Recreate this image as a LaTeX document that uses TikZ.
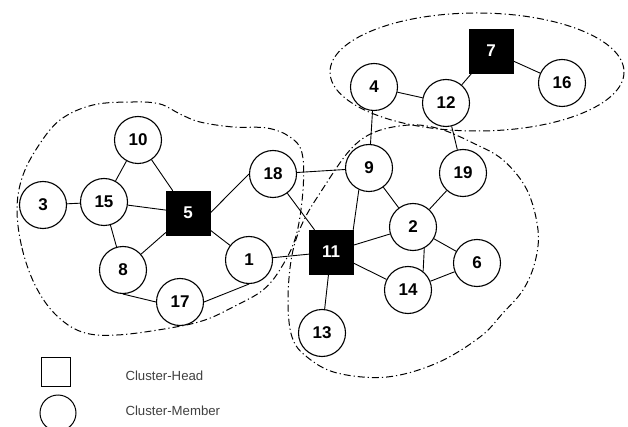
\documentclass[tikz,border=0pt]{standalone}
\usepackage{fontspec}
\setmainfont{Liberation Sans}

\begin{document}
\begin{tikzpicture}[x=1pt, y=-1pt,
        member/.style={draw, circle, line width=1.1pt, minimum size=47pt, inner sep=0pt,
            font=\fontsize{17}{17}\selectfont\bfseries},
        head/.style={draw, fill=black, text=white, minimum size=44pt, inner sep=0pt,
            font=\fontsize{17}{17}\selectfont\bfseries},
        link/.style={line width=0.9pt},
        cluster/.style={line width=1pt, dash pattern=on 7pt off 3pt on 1.2pt off 3pt},
        legend/.style={font=\fontsize{13.2}{15}\selectfont, text=black!75, anchor=west}]
        \useasboundingbox (0, 0) rectangle (628, 427);

        % cluster borders
        \draw[cluster] plot[smooth cycle, tension=0.6] coordinates {
            (17,210) (22,248) (35,285) (55,314) (82,332) (117,335) (170,328) (205,320)
            (235,306) (263,290) (281,268) (296,236) (303,190) (302,153) (290,137)
            (267,128) (233,127) (200,122) (180,114) (160,104) (133,102) (93,105)
            (60,120) (37,148) (22,178)};
        \draw[cluster] plot[smooth cycle, tension=0.6] coordinates {
            (350,150) (375,132) (410,125) (440,129) (473,143) (503,160) (527,190)
            (538,230) (535,262) (523,290) (503,313) (480,337) (437,363) (387,377)
            (337,373) (307,357) (292,337) (288,300) (292,255) (303,222) (322,190)};
        \draw[cluster] (477, 72) ellipse [x radius=147, y radius=59];

        % heads
        \node[head] (n5) at (188, 213) {5};
        \node[head] (n11) at (331, 252) {11};
        \node[head] (n7) at (491, 51) {7};

        % members
        \node[member] (n10) at (138, 140) {10};
        \node[member] (n3) at (43, 205) {3};
        \node[member] (n15) at (104, 202) {15};
        \node[member] (n8) at (123, 270) {8};
        \node[member] (n17) at (180, 302) {17};
        \node[member] (n1) at (249, 260) {1};
        \node[member] (n18) at (273, 174) {18};
        \node[member] (n9) at (369, 168) {9};
        \node[member] (n19) at (463, 173) {19};
        \node[member] (n2) at (413, 227) {2};
        \node[member] (n6) at (477, 263) {6};
        \node[member] (n14) at (408, 290) {14};
        \node[member] (n13) at (322, 333) {13};
        \node[member] (n4) at (374, 87) {4};
        \node[member] (n12) at (446, 103) {12};
        \node[member] (n16) at (562, 83) {16};

        % links
        \foreach \a/\b in {n3/n15, n15/n10, n10/n5, n15/n5, n15/n8, n8/n5,
                n5/n1, n18/n9, n18/n11, n1/n11, n11/n2,
                n11/n14, n11/n13, n9/n2, n19/n2, n2/n6, n14/n6, n4/n9,
                n4/n12, n12/n7, n7/n16, n12/n19}
            \draw[link] (\a) -- (\b);
        \draw[link] (n8.south) -- (n17.west);
        \draw[link] (n17.east) -- (n1.south);
        \draw[link] (n5.east) -- (n18.west);
        \draw[link] (n11.north east) -- (n9.-115);
        \draw[link] (n2.-62) -- (n14.51);

        % legend
        \node[draw, line width=1pt, minimum size=29pt, inner sep=0pt] (keyhead) at (56, 372) {};
        \node[draw, circle, line width=1pt, minimum size=36pt, inner sep=0pt] (keymember) at (58, 413) {};
        \node[legend] (headtext) at (122, 376) {Cluster-Head};
        \node[legend] (membertext) at (122, 411) {Cluster-Member};
    \end{tikzpicture}
\end{document}
